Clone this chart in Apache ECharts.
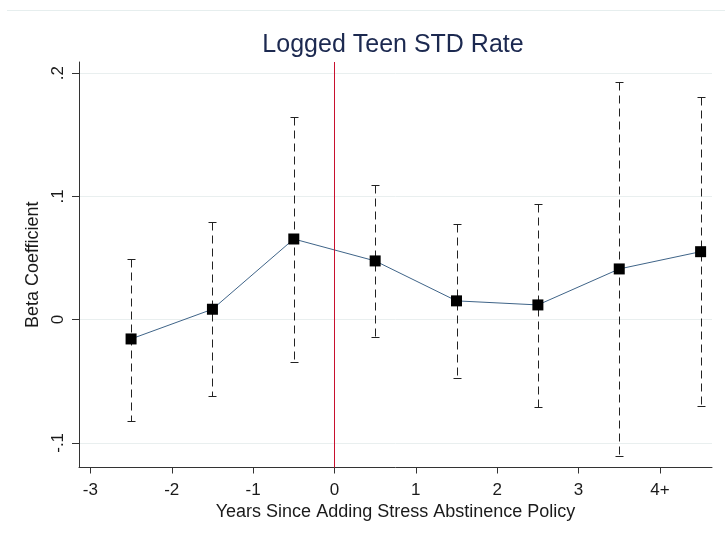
<!DOCTYPE html>
<html>
<head>
<meta charset="utf-8">
<style>
  html, body { margin: 0; padding: 0; background: #ffffff; }
  #chart { width: 725px; height: 536px; }
</style>
<script src="https://cdn.jsdelivr.net/npm/echarts@6/dist/echarts.min.js"></script>
</head>
<body>
<div id="chart"></div>
<script>
// ---- data ----
const xPositions = [-2.5, -1.5, -0.5, 0.5, 1.5, 2.5, 3.5, 4.5];
const betaValues = [-0.0157, 0.0084, 0.0654, 0.0476, 0.0152, 0.0119, 0.0411, 0.0551];
const ciLower    = [-0.0821, -0.0616, -0.0345, -0.0138, -0.0475, -0.0706, -0.1105, -0.0697];
const ciUpper    = [0.0492, 0.0792, 0.1642, 0.1090, 0.0774, 0.0941, 0.1928, 0.1806];
const xTickValues = [-3, -2, -1, 0, 1, 2, 3, 4];
const xTickLabels = ['-3', '-2', '-1', '0', '1', '2', '3', '4+'];
const yTickValues = [-0.1, 0, 0.1, 0.2];
const yTickLabels = ['-.1', '0', '.1', '.2'];
const referenceLineX = [0];
const chartTitle = 'Logged Teen STD Rate';
const xAxisTitle = 'Years Since Adding Stress Abstinence Policy';
const yAxisTitle = 'Beta Coefficient';

// ---- build ----
const FONT = '"Liberation Sans", Arial, sans-serif';
const pointData = xPositions.map((x, i) => [x, betaValues[i]]);
const ciData = xPositions.map((x, i) => [x, ciLower[i], ciUpper[i]]);

function labelFor(values, labels, v) {
  for (let i = 0; i < values.length; i++) {
    if (Math.abs(values[i] - v) < 1e-9) return labels[i];
  }
  return '';
}

const chart = echarts.init(document.getElementById('chart'), null, { renderer: 'canvas' });

const option = {
  backgroundColor: '#ffffff',
  animation: false,
  title: {
    text: chartTitle,
    left: 388,
    top: 28,
    textAlign: 'center',
    textStyle: { fontFamily: FONT, fontSize: 25, fontWeight: 'normal', color: '#1c2950' }
  },
  graphic: [{
    type: 'line',
    silent: true,
    shape: { x1: 7, y1: 10.5, x2: 725, y2: 10.5 },
    style: { stroke: '#e6eeee', lineWidth: 1 }
  }],
  grid: { left: 79, right: 13, top: 62, bottom: 68.5, containLabel: false },
  xAxis: {
    type: 'value',
    min: -3.14,
    max: 4.64,
    name: xAxisTitle,
    nameLocation: 'middle',
    nameGap: 29,
    nameTextStyle: { fontFamily: FONT, fontSize: 18, color: '#1a1a1a' },
    axisLine: { show: true, onZero: false, lineStyle: { color: '#333333', width: 1 } },
    axisTick: { show: true, length: 6, inside: false, customValues: xTickValues, lineStyle: { color: '#333333' } },
    axisLabel: {
      customValues: xTickValues,
      margin: 14,
      fontFamily: FONT, fontSize: 17, color: '#1a1a1a',
      formatter: v => labelFor(xTickValues, xTickLabels, v)
    },
    splitLine: { show: false }
  },
  yAxis: {
    type: 'value',
    min: -0.12,
    max: 0.209,
    name: yAxisTitle,
    nameLocation: 'middle',
    nameGap: 30,
    nameRotate: 90,
    nameTextStyle: { fontFamily: FONT, fontSize: 18, color: '#1a1a1a' },
    axisLine: { show: true, onZero: false, lineStyle: { color: '#333333', width: 1 } },
    axisTick: { show: true, length: 7, inside: false, customValues: yTickValues, lineStyle: { color: '#333333' } },
    axisLabel: {
      customValues: yTickValues,
      rotate: 90,
      margin: 12,
      fontFamily: FONT, fontSize: 17, color: '#1a1a1a',
      formatter: v => labelFor(yTickValues, yTickLabels, v)
    },
    splitLine: { show: true, lineStyle: { color: '#e9efef', width: 1 } }
  },
  series: [
    {
      type: 'custom',
      name: 'CI',
      data: ciData,
      encode: { x: 0, y: [1, 2] },
      z: 2,
      silent: true,
      renderItem: function (params, api) {
        const x = api.value(0);
        const lo = api.coord([x, api.value(1)]);
        const hi = api.coord([x, api.value(2)]);
        const px = Math.round(hi[0]) + 0.5;
        const yHi = Math.round(hi[1]) + 0.5;
        const yLo = Math.round(lo[1]) + 0.5;
        const hw = 4;
        const st = { stroke: '#222222', lineWidth: 1 };
        return {
          type: 'group',
          children: [
            { type: 'line', shape: { x1: px, y1: yHi, x2: px, y2: yLo }, style: Object.assign({ lineDash: [8, 5] }, st) },
            { type: 'line', shape: { x1: px - hw, y1: yHi, x2: px + hw, y2: yHi }, style: st },
            { type: 'line', shape: { x1: px - hw, y1: yLo, x2: px + hw, y2: yLo }, style: st }
          ]
        };
      }
    },
    {
      type: 'line',
      name: 'Beta',
      data: pointData,
      z: 3,
      symbol: 'rect',
      symbolSize: 11,
      showSymbol: true,
      itemStyle: { color: '#000000', borderWidth: 0 },
      lineStyle: { color: '#3f6488', width: 1 },
      silent: true,
      markLine: {
        silent: true,
        symbol: ['none', 'none'],
        label: { show: false },
        lineStyle: { color: '#c8102e', width: 1, type: 'solid' },
        data: referenceLineX.map(v => ({ xAxis: v }))
      }
    }
  ]
};

chart.setOption(option);
</script>
</body>
</html>
